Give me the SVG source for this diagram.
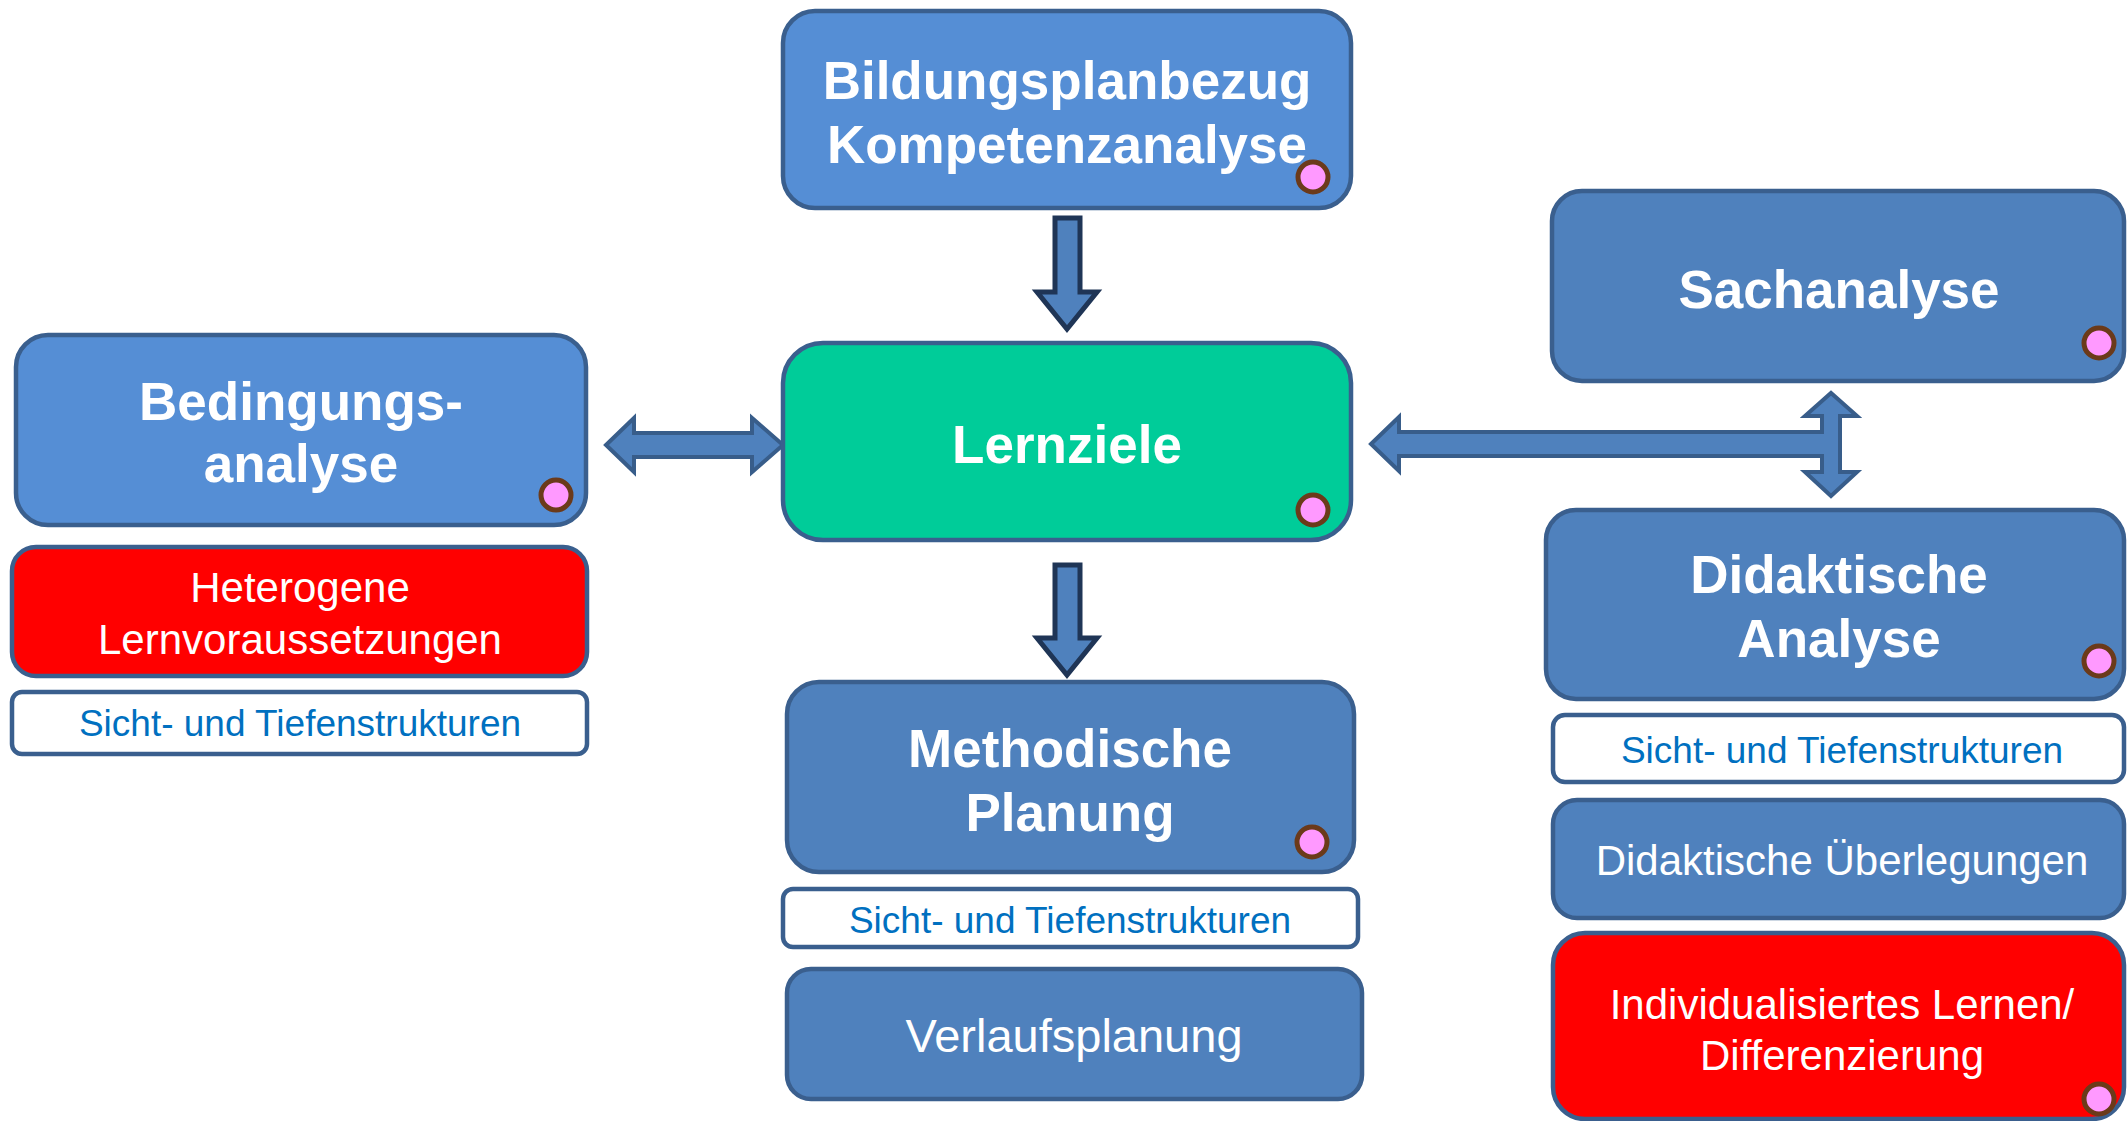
<svg xmlns="http://www.w3.org/2000/svg" width="2127" height="1121" viewBox="0 0 2127 1121">
<style>
.box{stroke:#3A5F8E;stroke-width:4.5}
.lb{fill:#558ED5}
.mb{fill:#4F81BD}
.green{fill:#00CC99}
.red{fill:#FF0000}
.white{fill:#FFFFFF}
.tb{font-family:"Liberation Sans",Arial,sans-serif;font-weight:bold;font-size:53px;fill:#FFFFFF;text-anchor:middle}
.tn{font-family:"Liberation Sans",Arial,sans-serif;font-size:42px;fill:#FFFFFF;text-anchor:middle}
.ts{font-family:"Liberation Sans",Arial,sans-serif;font-size:37px;fill:#0070C0;text-anchor:middle}
.dot{fill:#FF99FF;stroke:#6B3A1A;stroke-width:5}
.arr{fill:#4F81BD;stroke:#385D8A;stroke-width:4;stroke-linejoin:miter}
.darr{fill:#4F81BD;stroke:#1F3556;stroke-width:5;stroke-linejoin:miter}
</style>
<rect width="2127" height="1121" fill="#FFFFFF"/>
<g id="connectors">
<polygon class="darr" points="1055,218 1080,218 1080,292 1097,292 1067,329 1037,292 1055,292"/>
<polygon class="darr" points="1055,565 1080,565 1080,638 1097,638 1067,675 1037,638 1055,638"/>
<polygon class="arr" points="606,445 634,418 634,433 752,433 752,418 783,445 752,472 752,457 634,457 634,472"/>
<polygon class="arr" points="1371,444 1399,417 1399,432 1822,432 1822,416 1805,416 1831,393 1857,416 1840,416 1840,472 1857,472 1831,496 1805,472 1822,472 1822,456 1399,456 1399,471"/>
</g>
<g id="bildungsplanbezug">
<rect class="box lb" x="783" y="11" width="568" height="197" rx="32"/>
<text class="tb" x="1067" y="99">Bildungsplanbezug</text>
<text class="tb" x="1067" y="163">Kompetenzanalyse</text>
<circle class="dot" cx="1313" cy="177" r="15"/>
</g>
<g id="lernziele">
<rect class="box green" x="783" y="343" width="568" height="197" rx="40"/>
<text class="tb" x="1067" y="463">Lernziele</text>
<circle class="dot" cx="1313" cy="510" r="15"/>
</g>
<g id="bedingungsanalyse">
<rect class="box lb" x="16" y="335" width="570" height="190" rx="32"/>
<text class="tb" x="301" y="420">Bedingungs-</text>
<text class="tb" x="301" y="482">analyse</text>
<circle class="dot" cx="556" cy="495" r="15"/>
</g>
<g id="heterogene">
<rect class="box red" x="12" y="547" width="575" height="129" rx="24"/>
<text class="tn" x="300" y="602">Heterogene</text>
<text class="tn" x="300" y="654">Lernvoraussetzungen</text>
</g>
<g id="sicht-links">
<rect class="box white" x="12" y="692" width="575" height="62" rx="10"/>
<text class="ts" x="300" y="736">Sicht- und Tiefenstrukturen</text>
</g>
<g id="sachanalyse">
<rect class="box mb" x="1552" y="191" width="572" height="190" rx="30"/>
<text class="tb" x="1839" y="308">Sachanalyse</text>
<circle class="dot" cx="2099" cy="343" r="15"/>
</g>
<g id="didaktische-analyse">
<rect class="box mb" x="1546" y="510" width="578" height="189" rx="30"/>
<text class="tb" x="1839" y="593">Didaktische</text>
<text class="tb" x="1839" y="657">Analyse</text>
<circle class="dot" cx="2099" cy="661" r="15"/>
</g>
<g id="sicht-rechts">
<rect class="box white" x="1553" y="715" width="571" height="67" rx="12"/>
<text class="ts" x="1842" y="763">Sicht- und Tiefenstrukturen</text>
</g>
<g id="didaktische-ueberlegungen">
<rect class="box mb" x="1553" y="800" width="571" height="118" rx="24"/>
<text class="tn" x="1842" y="875">Didaktische Überlegungen</text>
</g>
<g id="individualisiertes-lernen">
<rect class="box red" x="1553" y="933" width="571" height="186" rx="32"/>
<text class="tn" x="1842" y="1019">Individualisiertes Lernen/</text>
<text class="tn" x="1842" y="1070">Differenzierung</text>
<circle class="dot" cx="2099" cy="1099" r="15"/>
</g>
<g id="methodische-planung">
<rect class="box mb" x="787" y="682" width="567" height="190" rx="32"/>
<text class="tb" x="1070" y="767">Methodische</text>
<text class="tb" x="1070" y="831">Planung</text>
<circle class="dot" cx="1312" cy="842" r="15"/>
</g>
<g id="sicht-mitte">
<rect class="box white" x="783" y="889" width="575" height="58" rx="10"/>
<text class="ts" x="1070" y="933">Sicht- und Tiefenstrukturen</text>
</g>
<g id="verlaufsplanung">
<rect class="box mb" x="787" y="969" width="575" height="130" rx="24"/>
<text class="tn" x="1074" y="1052" style="font-size:47px">Verlaufsplanung</text>
</g>
</svg>
